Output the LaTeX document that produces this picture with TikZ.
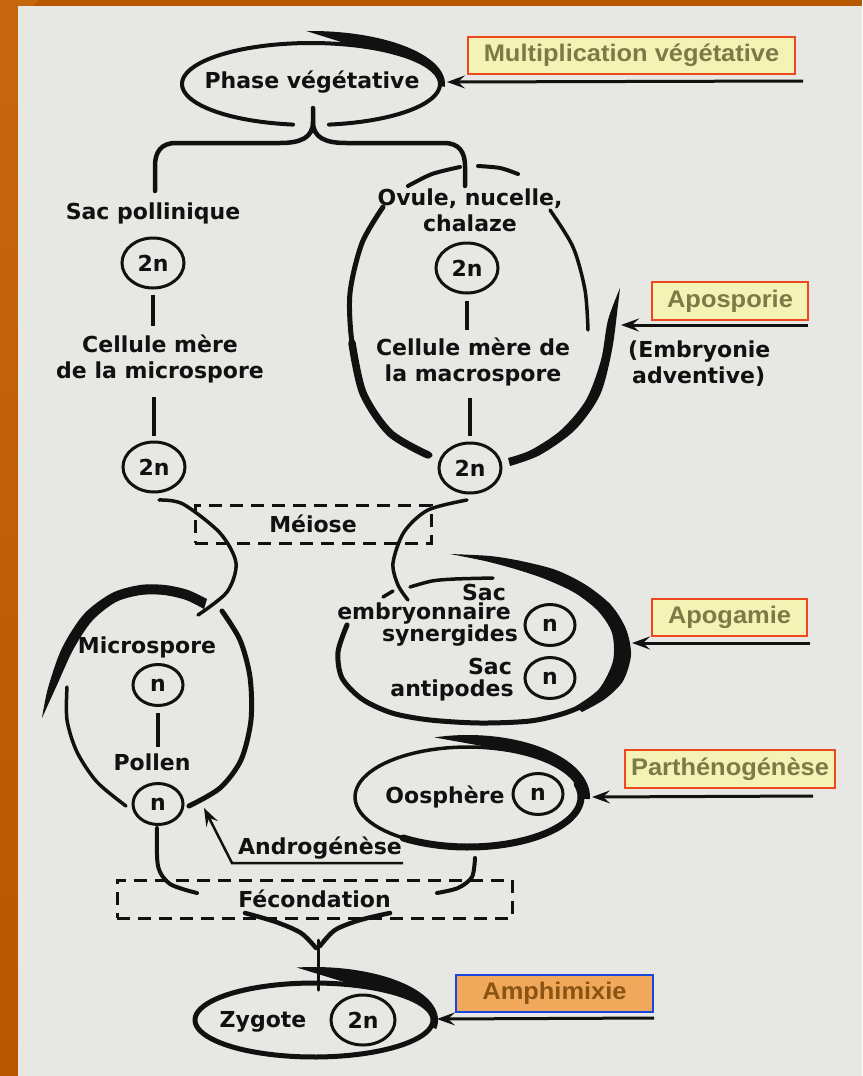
\documentclass[tikz,border=0pt]{standalone}
\usepackage{fontspec}
\usetikzlibrary{shapes.geometric,arrows.meta,calc}
\newfontfamily\dgfont{DejaVu Sans}
\newfontfamily\lbfont{Liberation Sans}[FakeStretch=1.06]
\definecolor{orgA}{HTML}{C6660E}
\definecolor{orgB}{HTML}{A34300}
\definecolor{orgC}{HTML}{B95700}
\definecolor{paper}{HTML}{E7E8E4}
\definecolor{ink}{HTML}{111111}
\definecolor{yelbox}{HTML}{F3F3B6}
\definecolor{redbox}{HTML}{F0481E}
\definecolor{olivetxt}{HTML}{7C7A46}
\definecolor{orgbox}{HTML}{F0A95A}
\definecolor{bluebox}{HTML}{1A46E0}
\definecolor{browntxt}{HTML}{8A5414}
\tikzset{
  dtext/.style={font=\dgfont\bfseries\fontsize{22}{26}\selectfont, text=ink, inner sep=0pt},
  ringtwo/.style={ellipse, draw=ink, line width=3pt, minimum width=62pt, minimum height=50pt, inner sep=0pt, font=\dgfont\bfseries\fontsize{22}{26}\selectfont, text=ink},
  ringone/.style={ringtwo, minimum width=50pt, minimum height=41pt},
  linkline/.style={draw=ink, line width=4pt},
  curve/.style={draw=ink, line width=3.5pt, line cap=round},
  labelbox/.style={draw=redbox, fill=yelbox, line width=2pt, font=\lbfont\bfseries\fontsize{24}{28}\selectfont, text=olivetxt, inner sep=0pt},
  ampbox/.style={labelbox, draw=bluebox, fill=orgbox, text=browntxt},
  dashbox/.style={draw=ink, line width=3pt, dash pattern=on 13pt off 8pt, inner sep=0pt, font=\dgfont\bfseries\fontsize{22}{26}\selectfont, text=ink},
  feed/.style={draw=ink, line width=3pt, -{Stealth[length=18pt,width=13pt,inset=7pt]}},
}
\begin{document}
\begin{tikzpicture}[x=1pt,y=-1pt]
% background
\useasboundingbox (0,0) rectangle (862,1076);
\fill[orgC] (0,0) rectangle (862,1076);
\shade[top color=orgA, middle color=orgB, bottom color=orgC] (0,0) rectangle (18,1076);
\fill[orgA] (0,0) -- (40,0) -- (0,30) -- cycle;
\fill[paper] (18,6) rectangle (862,1076);

% ---------- Phase vegetative ----------
\node[dtext] (phase) at (312,82) {Phase végétative};
\draw[curve, line width=4pt] plot[domain=98:442,samples=90] ({311+129*cos(\x)},{84+41*sin(\x)});
\fill[ink] plot[domain=-92:3,samples=50] ({311+134*cos(\x)},{84+53*sin(\x)}) -- plot[domain=3:-72,samples=50] ({311+129*cos(\x)},{84+41*sin(\x)}) -- cycle;
\node[labelbox, minimum width=327pt, minimum height=37pt] (multi) at (631.5,55.5) {Multiplication végétative};
\coordinate (multiE) at (803,81);
\coordinate (multiT) at (447,82);
\draw[feed] (multiE) -- (multiT);

% brace
\draw[curve, line width=4.5pt] (313,108) -- (313,122) .. controls (313,138) and (300,143) .. (280,143) -- (176,143) .. controls (161,143) and (155,152) .. (155,166) -- (155,191);
\draw[curve, line width=4.5pt] (313,122) .. controls (313,138) and (326,143) .. (346,143) -- (444,143) .. controls (459,143) and (465,152) .. (465,166) -- (465,186);

% ---------- left column ----------
\node[dtext] (sacp) at (153,213) {Sac pollinique};
\node[ringtwo] (l1) at (153,263) {2n};
\node[dtext, align=center] (cml) at (160,359) {Cellule mère\\de la microspore};
\node[ringtwo] (l2) at (154,467) {2n};
\draw[linkline, shorten <=5pt, shorten >=9pt] (l1.south) -- (l1.south |- cml.north);
\draw[linkline, shorten <=14pt, shorten >=5pt] (l2.north |- cml.south) -- (l2.north);

% ---------- right column ----------
\node[dtext, align=center] (ovule) at (470,210) {Ovule, nucelle,\\chalaze};
\node[ringtwo] (r1) at (467,268) {2n};
\node[dtext, align=center] (cmr) at (473,362) {Cellule mère de\\la macrospore};
\node[ringtwo] (r2) at (470,468) {2n};
\draw[linkline, shorten <=6pt, shorten >=8pt] (r1.south) -- (r1.south |- cmr.north);
\draw[linkline, shorten <=12pt, shorten >=6pt] (r2.north |- cmr.south) -- (r2.north);
% big ovule ellipse
\draw[curve, line width=5pt] plot[smooth] coordinates {(383,207) (362,243) (350,293) (352,343) (363,393) (390,433) (430,455)};
\draw[curve, line width=7.5pt] plot[smooth] coordinates {(352,343) (363,393) (390,433) (428,455)};
\draw[curve, line width=4pt] plot[smooth] coordinates {(408,186) (432,174) (460,167)};
\draw[curve, line width=4pt] plot[smooth] coordinates {(478,166) (500,168) (518,174)};
\draw[curve] plot[smooth] coordinates {(550,210) (573,247) (585,290) (588,330)};
\fill[ink] plot[smooth] coordinates {(510,466) (540,455) (575,430) (600,395) (612,350) (618,305) (620,288)} -- plot[smooth] coordinates {(620,288) (608,320) (601,360) (586,400) (561,430) (531,450) (508,458)} -- cycle;
\node[labelbox, minimum width=156pt, minimum height=38pt] (apos) at (730,301) {Aposporie};
\coordinate (aposE) at (808,325);
\coordinate (aposT) at (621,325);
\draw[feed] (aposE) -- (aposT);
\node[dtext, align=left, anchor=west] (emb) at (628,364) {(Embryonie\\\hspace*{4pt}adventive)};

% ---------- meiose ----------
\node[dashbox, minimum width=236pt, minimum height=38pt] (meiose) at (313,524) {Méiose};
\draw[curve] plot[smooth] coordinates {(159,500) (183,504) (220,533) (236,563) (227,592) (198,615)};
\draw[curve] plot[smooth] coordinates {(467,500) (428,510) (404,532) (393,563) (398,585) (408,600)};

% ---------- microspore ----------
\node[dtext] (micro) at (147,647) {Microspore};
\node[ringone] (m1) at (158,685) {n};
\node[dtext] (pollen) at (152,762) {Pollen};
\node[ringone] (m2) at (158,804) {n};
\draw[linkline, shorten <=6pt, shorten >=6pt] (m1.south) -- (m1.south |- pollen.north);
\fill[ink] plot[smooth] coordinates {(42,718) (48,688) (62,648) (84,614) (112,593) (140,585) (165,585) (188,590) (207,599)} -- plot[smooth] coordinates {(204,609) (186,600) (164,595) (141,595) (116,602) (92,621) (73,650) (57,685) (42,718)} -- cycle;
\draw[curve, line width=5pt] plot[smooth] coordinates {(222,611) (240,640) (250,677) (251,720) (241,760) (220,788) (189,806)};
\draw[curve] plot[smooth] coordinates {(67,687) (67,720) (77,752) (97,782) (126,806)};

% ---------- sac embryonnaire ----------
\node[dtext] (sac1) at (484,592) {Sac};
\node[dtext] (emb1) at (424,614) {embryonnaire};
\node[dtext] (syn) at (450,636) {synergides};
\node[ringone] (s1) at (550,625) {n};
\node[dtext] (sac2) at (490,666) {Sac};
\node[dtext] (anti) at (452,690) {antipodes};
\node[ringone] (s2) at (550,678) {n};
\draw[curve] plot[smooth] coordinates {(410,587) (432,581) (455,579) (493,578)};
\draw[curve] (383,597) -- (393,591);
\draw[curve, line width=5pt] plot[smooth] coordinates {(347,625) (338,652) (342,678) (362,699) (392,713) (430,720) (480,723) (530,721) (565,713) (595,700) (612,688)};
\fill[ink] plot[smooth] coordinates {(450,554) (490,556) (521,561) (556,570) (586,585) (611,605) (626,629) (631,655) (623,681) (605,699) (582,712)} -- plot[smooth] coordinates {(576,706) (599,689) (613,661) (612,633) (598,611) (575,593) (545,579) (515,569) (485,561) (450,554)} -- cycle;
\node[labelbox, minimum width=155pt, minimum height=37pt] (apog) at (729.5,617.5) {Apogamie};
\coordinate (apogE) at (810,643);
\coordinate (apogT) at (632,643);
\draw[feed] (apogE) -- (apogT);

% ---------- oosphere ----------
\node[dtext] (oos) at (445,797) {Oosphère};
\node[ringone] (o1) at (538,794) {n};
\draw[curve] plot[domain=0:360,samples=90] ({468+113*cos(\x)},{797+50*sin(\x)});
\draw[curve, line width=7pt] plot[domain=-15:125,samples=50] ({468+113*cos(\x)},{797+50*sin(\x)});
\fill[ink] plot[domain=-106:2,samples=50] ({468+122*cos(\x)},{797+62*sin(\x)}) -- plot[domain=2:-75,samples=50] ({468+113*cos(\x)},{797+50*sin(\x)}) -- cycle;
\node[labelbox, minimum width=210pt, minimum height=38pt] (parth) at (730,769) {Parthénogénèse};
\coordinate (parthE) at (813,796);
\coordinate (parthT) at (592,797);
\draw[feed] (parthE) -- (parthT);

% ---------- androgenese ----------
\node[dtext] (andro) at (320,848) {Androgénèse};
\coordinate (androS) at (403,863);
\coordinate (androK) at (232,863);
\coordinate (androT) at (204,808);
\draw[feed, line width=2.5pt] (androS) -- (androK) -- (androT);

% ---------- fecondation ----------
\node[dashbox, minimum width=395pt, minimum height=38pt] (fec) at (314.5,899) {Fécondation};
\draw[curve, line width=4pt] plot[smooth] coordinates {(157,828) (158,866) (170,884) (197,893)};
\draw[curve, line width=4pt] plot[smooth] coordinates {(475,858) (472,877) (458,888) (437,893)};
\draw[curve, line width=4.5pt] plot[smooth] coordinates {(245,913) (276,922) (301,933) (316,948)};
\draw[curve, line width=4.5pt] plot[smooth] coordinates {(390,913) (360,920) (335,930) (320,946)};
\draw[curve, line width=3pt] (318,940) -- (318,990);

% ---------- zygote ----------
\draw[curve, line width=5pt] plot[domain=0:360,samples=90] ({314+119*cos(\x)},{1020+37*sin(\x)});
\fill[ink] plot[domain=-98:10,samples=50] ({314+124*cos(\x)},{1020+53*sin(\x)}) -- plot[domain=10:-70,samples=50] ({314+119*cos(\x)},{1020+37*sin(\x)}) -- cycle;
\node[dtext] (zyg) at (263,1022) {Zygote};
\node[ringtwo, minimum width=64pt, minimum height=50pt] (z1) at (363,1020) {2n};
\node[ampbox, minimum width=197pt, minimum height=37pt] (amph) at (554.5,993.5) {Amphimixie};
\coordinate (amphE) at (654,1018);
\coordinate (amphT) at (437,1019);
\draw[feed] (amphE) -- (amphT);
\end{tikzpicture}
\end{document}
